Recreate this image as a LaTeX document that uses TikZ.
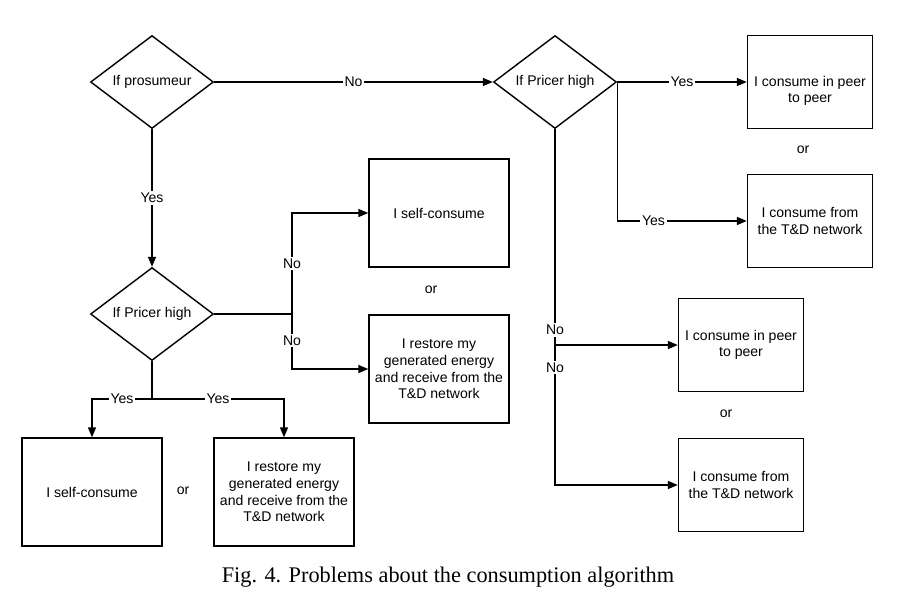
\documentclass[tikz,border=0pt]{standalone}
\usepackage{fontspec}
\setmainfont{Liberation Sans}
\newfontfamily\capfont{Liberation Serif}
\usetikzlibrary{arrows.meta,shapes.geometric}

\tikzset{
  decision/.style={draw, diamond, line width=0.8pt, aspect=1.3, inner sep=0pt, minimum width=2.46cm, minimum height=1.86cm, font=\fontsize{8}{9.5}\selectfont},
  action/.style={draw, rectangle, line width=0.8pt, align=center, inner sep=2pt, font=\fontsize{8}{9.5}\selectfont},
  small/.style={action, minimum width=2.5cm, minimum height=1.86cm},
  large/.style={action, minimum width=2.8cm, minimum height=2.16cm},
  txt/.style={align=center, font=\fontsize{8}{9.5}\selectfont},
  lbl/.style={fill=white, inner sep=1pt, font=\fontsize{8}{9.5}\selectfont},
  arr/.style={-{Triangle[length=2mm,width=1.6mm]}, line width=0.8pt},
}

\begin{document}
\begin{tikzpicture}[x=0.02cm, y=-0.02cm]
        \useasboundingbox (0,0) rectangle (898,596);
        \node[decision] (pros) at (152,82) {If prosumeur};
        \node[decision] (priceA) at (555,82) {If Pricer high};
        \node[decision] (priceB) at (152,314) {If Pricer high};
        \node[small] (p2pA) at (810,82) {};
        \node[txt] (p2pAtext) at (810,91) {I consume in peer\\to peer};
        \node[small] (tdA) at (810,221) {I consume from\\the T\&D network};
        \node[txt] (orA) at (803,150) {or};
        \node[large] (selfA) at (439,213) {I self-consume};
        \node[large] (restA) at (439,369) {I restore my\\generated energy\\and receive from the\\T\&D network};
        \node[txt] (orB) at (431,290) {or};
        \node[large] (selfB) at (92,492) {I self-consume};
        \node[large] (restB) at (284,492) {I restore my\\generated energy\\and receive from the\\T\&D network};
        \node[txt] (orC) at (183,491) {or};
        \node[small] (p2pB) at (741,345) {I consume in peer\\to peer};
        \node[small] (tdB) at (741,485) {I consume from\\the T\&D network};
        \node[txt] (orD) at (726,414) {or};
        \coordinate (jB) at (292,314);
        \coordinate (jC) at (152,399);
        \draw[arr] (pros) -- node[lbl] {No} (priceA);
        \draw[arr] (pros) -- node[lbl] {Yes} (priceB);
        \draw[arr] (priceA.east) -- node[lbl] {Yes} (p2pA.west);
        \draw[arr] (priceA.east) |- node[lbl, pos=0.64] {Yes} (tdA.west);
        \draw[line width=0.8pt] (priceB.east) -- (jB);
        \draw[arr] (jB) |- node[lbl, pos=0.25] {No} (selfA.west);
        \draw[arr] (jB) |- node[lbl, pos=0.24] {No} (restA.west);
        \draw[line width=0.8pt] (priceB.south) -- (jC);
        \draw[arr] (jC) -| node[lbl, pos=0.25] {Yes} (selfB.north);
        \draw[arr] (jC) -| node[lbl, pos=0.25] {Yes} (restB.north);
        \draw[arr] (priceA.south) |- node[lbl, pos=0.335] {No} (tdB.west);
        \draw[arr] (priceA.south) |- node[lbl, pos=0.465] {No} (p2pB.west);
        \node[font=\capfont\fontsize{12.7}{15}\selectfont] (caption) at (448,577) {Fig. 4. Problems about the consumption algorithm};
\end{tikzpicture}
\end{document}
